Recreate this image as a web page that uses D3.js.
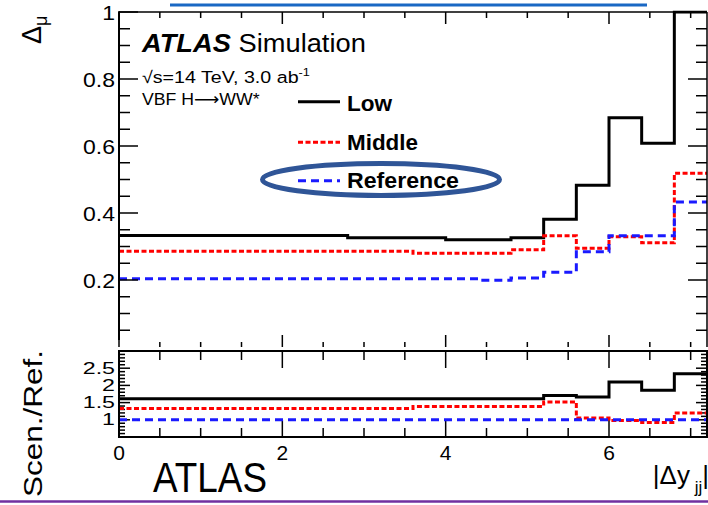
<!DOCTYPE html>
<html><head><meta charset="utf-8">
<script src="https://cdn.jsdelivr.net/npm/d3@7"></script>
<style>html,body{margin:0;padding:0;background:#fff;}svg{display:block;}text{font-family:"Liberation Sans",Arial,sans-serif;}</style>
</head><body>
<svg id="c" width="708" height="505"></svg>
<script>
// ---------------- data ----------------
const binEdges = [0, 2.8, 3.6, 4.0, 4.4, 4.8, 5.2, 5.6, 6.0, 6.4, 6.8, 7.2];
const lowVals  = [0.333, 0.326, 0.326, 0.320, 0.320, 0.326, 0.381, 0.483, 0.684, 0.608, 1.0];
const midVals  = [0.286, 0.286, 0.280, 0.280, 0.280, 0.290, 0.332, 0.295, 0.329, 0.311, 0.519];
const refVals  = [0.204, 0.204, 0.204, 0.204, 0.199, 0.206, 0.223, 0.284, 0.332, 0.332, 0.433];
const lowRatio = [1.61, 1.61, 1.61, 1.61, 1.61, 1.61, 1.71, 1.66, 2.10, 1.86, 2.34];
const midRatio = [1.33, 1.33, 1.39, 1.39, 1.39, 1.39, 1.52, 1.05, 0.98, 0.92, 1.20];
const refRatio = [1.0, 1.0, 1.0, 1.0, 1.0, 1.0, 1.0, 1.0, 1.0, 1.0, 1.0];
const seriesNames = ["Low", "Middle", "Reference"];
const xTicks = [0, 2, 4, 6];
const xTickLabels = ["0", "2", "4", "6"];
const mainYTicks = [0.2, 0.4, 0.6, 0.8, 1];
const mainYTickLabels = ["0.2", "0.4", "0.6", "0.8", "1"];
const ratioYTicks = [1, 1.5, 2, 2.5];
const ratioYTickLabels = ["1", "1.5", "2", "2.5"];

// ---------------- layout ----------------
const svg = d3.select("#c");
const X0 = 119, X1 = 707;
const x = d3.scaleLinear().domain([0, 7.2]).range([X0, X1]);
const yMain = d3.scaleLinear().domain([0, 1]).range([347, 12]);
const yRat = d3.scaleLinear().domain([0.5, 3]).range([437, 351]);

const styles = [
  {color: "#000000", dash: null, w: 3},
  {color: "#ff0000", dash: "5,2.5", w: 3},
  {color: "#1a1aff", dash: "8,5", w: 3}
];

function place(sel, px, py, targetW, rot) {
  const bb = sel.node().getBBox();
  const s = targetW ? targetW / bb.width : 1;
  sel.attr("transform", `translate(${px},${py})${rot ? " rotate(-90)" : ""} scale(${s},1)`);
  return sel;
}

const defs = svg.append("defs");
defs.append("clipPath").attr("id", "clipMain").append("rect")
  .attr("x", X0).attr("y", 10.5).attr("width", X1 - X0).attr("height", 337);
defs.append("clipPath").attr("id", "clipRat").append("rect")
  .attr("x", X0).attr("y", 351).attr("width", X1 - X0).attr("height", 86);

function stepPts(vals) {
  const pts = vals.map((v, i) => [binEdges[i], v]);
  pts.push([binEdges[binEdges.length - 1], vals[vals.length - 1]]);
  return pts;
}

// ---------------- main panel ----------------
const lineMain = d3.line().x(d => x(d[0])).y(d => yMain(d[1])).curve(d3.curveStepAfter);
const gMain = svg.append("g").attr("clip-path", "url(#clipMain)");
[lowVals, midVals, refVals].forEach((vals, i) => {
  gMain.append("path").attr("d", lineMain(stepPts(vals)))
    .attr("fill", "none").attr("stroke", styles[i].color)
    .attr("stroke-width", styles[i].w).attr("stroke-dasharray", styles[i].dash);
});

svg.append("line").attr("x1", X0).attr("x2", X1).attr("y1", 12).attr("y2", 12).attr("stroke", "#000").attr("stroke-width", 1.5);
svg.append("line").attr("x1", X0).attr("x2", X0).attr("y1", 11.3).attr("y2", 340).attr("stroke", "#000").attr("stroke-width", 2);
svg.append("line").attr("x1", X1).attr("x2", X1).attr("y1", 12).attr("y2", 347).attr("stroke", "#000").attr("stroke-width", 1.5);

const tk = svg.append("g").attr("stroke", "#000").attr("stroke-width", 1.5);
const minorX = d3.range(0, 7.21, 0.5);
d3.range(1, 21).map(i => i * 0.05).forEach(v => {
  const major = Math.abs(v / 0.2 - Math.round(v / 0.2)) < 1e-6;
  const L = major ? 19 : 11;
  tk.append("line").attr("x1", X0).attr("x2", X0 + L).attr("y1", yMain(v)).attr("y2", yMain(v));
  tk.append("line").attr("x1", X1).attr("x2", X1 - L).attr("y1", yMain(v)).attr("y2", yMain(v));
});
minorX.forEach(v => {
  const major = Math.abs(v / 2 - Math.round(v / 2)) < 1e-6;
  tk.append("line").attr("x1", x(v)).attr("x2", x(v)).attr("y1", 12).attr("y2", 12 + (major ? 12 : 6));
  tk.append("line").attr("x1", x(v)).attr("x2", x(v)).attr("y1", 347).attr("y2", 347 - (major ? 12 : 5));
});

mainYTicks.forEach((v, i) => {
  const t = svg.append("text").attr("text-anchor", "end").attr("font-size", 20)
    .attr("dy", "0.35em").text(mainYTickLabels[i]);
  t.attr("transform", `translate(115,${yMain(v) + 0.5}) scale(1.15,1)`);
});

// ---------------- ratio panel ----------------
const lineRat = d3.line().x(d => x(d[0])).y(d => yRat(d[1])).curve(d3.curveStepAfter);
const gRat = svg.append("g").attr("clip-path", "url(#clipRat)");
[lowRatio, midRatio, refRatio].forEach((vals, i) => {
  gRat.append("path").attr("d", lineRat(stepPts(vals)))
    .attr("fill", "none").attr("stroke", styles[i].color)
    .attr("stroke-width", styles[i].w).attr("stroke-dasharray", styles[i].dash);
});
svg.append("rect").attr("x", X0).attr("y", 351).attr("width", X1 - X0).attr("height", 86)
  .attr("fill", "none").attr("stroke", "#000").attr("stroke-width", 2);
d3.range(6, 30).map(i => i * 0.1).forEach(v => {
  const major = Math.abs(v / 0.5 - Math.round(v / 0.5)) < 1e-6;
  const L = major ? 11 : 6;
  tk.append("line").attr("x1", X0).attr("x2", X0 + L).attr("y1", yRat(v)).attr("y2", yRat(v));
  tk.append("line").attr("x1", X1).attr("x2", X1 - L).attr("y1", yRat(v)).attr("y2", yRat(v));
});
minorX.forEach(v => {
  const major = Math.abs(v / 2 - Math.round(v / 2)) < 1e-6;
  tk.append("line").attr("x1", x(v)).attr("x2", x(v)).attr("y1", 351).attr("y2", 351 + (major ? 17 : 9));
  tk.append("line").attr("x1", x(v)).attr("x2", x(v)).attr("y1", 437).attr("y2", 437 - (major ? 17 : 9));
});
ratioYTicks.forEach((v, i) => {
  const t = svg.append("text").attr("text-anchor", "end").attr("font-size", 16)
    .attr("dy", "0.35em").text(ratioYTickLabels[i]);
  t.attr("transform", `translate(115,${yRat(v)}) scale(1.45,1)`);
});
xTicks.forEach((v, i) => {
  svg.append("text").attr("x", x(v)).attr("y", 460).attr("text-anchor", "middle")
    .attr("font-size", 21).text(xTickLabels[i]);
});

// ---------------- texts ----------------
const t1 = svg.append("text").attr("font-size", 26);
t1.append("tspan").attr("font-weight", "bold").attr("font-style", "italic").text("ATLAS");
t1.append("tspan").text(" Simulation");
place(t1, 142, 52, 225);

const t2 = svg.append("text").attr("font-size", 17);
t2.append("tspan").text("\u221As=14 TeV, 3.0 ab");
t2.append("tspan").attr("font-size", 11).attr("dy", -7).text("-1");
place(t2, 142, 83, 168);

const t3 = svg.append("text").attr("font-size", 17);
t3.append("tspan").text("VBF H");
t3.append("tspan").attr("font-family", "DejaVu Sans").text("\u27F6");
t3.append("tspan").text("WW*");
place(t3, 142, 105, 118);

const legY = [101.7, 142.3, 180.7];
const legTextY = [111, 150, 188.3];
const legW = [46, 71, 112];
seriesNames.forEach((n, i) => {
  svg.append("line").attr("x1", 298).attr("x2", 340).attr("y1", legY[i]).attr("y2", legY[i])
    .attr("stroke", styles[i].color).attr("stroke-width", styles[i].w)
    .attr("stroke-dasharray", styles[i].dash);
  const t = svg.append("text").attr("font-size", 22).attr("font-weight", "bold").text(n);
  place(t, 347, legTextY[i], legW[i]);
});

svg.append("ellipse").attr("cx", 381).attr("cy", 179.5).attr("rx", 118.5).attr("ry", 16)
  .attr("fill", "none").attr("stroke", "#2f5597").attr("stroke-width", 5);
svg.append("line").attr("x1", 170).attr("x2", 647).attr("y1", 5).attr("y2", 5)
  .attr("stroke", "#1a68c4").attr("stroke-width", 3);
svg.append("line").attr("x1", 0).attr("x2", 708).attr("y1", 501.5).attr("y2", 501.5)
  .attr("stroke", "#7030a0").attr("stroke-width", 2.5);

const tA = svg.append("text").attr("font-size", 42).text("ATLAS");
place(tA, 153, 492, 114);

const ty = svg.append("text").attr("font-size", 27);
ty.append("tspan").text("\u0394");
ty.append("tspan").attr("font-size", 18).attr("dy", 6).text("\u03BC");
place(ty, 41, 44, null, true);

const tr = svg.append("text").attr("font-size", 26).text("Scen./Ref.");
place(tr, 41.5, 497, 147, true);

const tx = svg.append("text").attr("font-size", 26).attr("text-anchor", "end");
tx.append("tspan").text("|\u0394y");
tx.append("tspan").attr("font-size", 17).attr("dy", 9).text(" jj");
tx.append("tspan").attr("dy", -9).text("|");
place(tx, 709, 484, null, false);
</script>
</body></html>
